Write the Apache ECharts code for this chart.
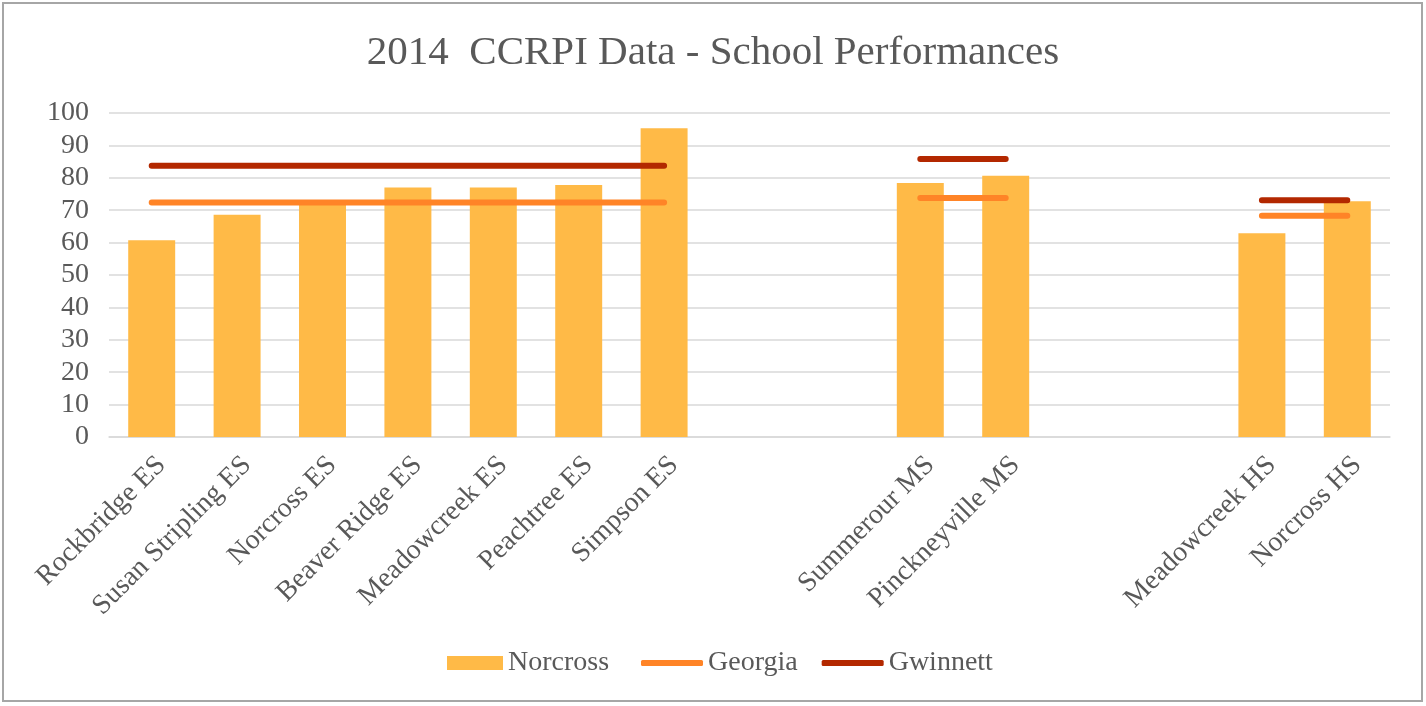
<!DOCTYPE html>
<html lang="en">
<head>
    <meta charset="UTF-8">
    <title>2014 CCRPI Data</title>
    <script src="https://cdn.jsdelivr.net/npm/echarts@6/dist/echarts.min.js"></script>
    <style>
        html, body { margin: 0; padding: 0; background: #fff; }
    </style>
</head>
<body>
<div id="main" style="width: 1426px;height: 706px;"></div>
<script type="text/javascript">
// schools, blanks keep the gaps between ES / MS / HS groups
var schools = ['Rockbridge ES', 'Susan Stripling ES', 'Norcross ES', 'Beaver Ridge ES', 'Meadowcreek ES',
    'Peachtree ES', 'Simpson ES', '', '', 'Summerour MS', 'Pinckneyville MS', '', '', 'Meadowcreek HS', 'Norcross HS'];
var norcross = [60.7, 68.6, 71.8, 77.0, 77.0, 77.8, 95.3, null, null, 78.4, 80.6, null, null, 62.9, 72.8];
var georgia = [72.4, 72.4, 72.4, 72.4, 72.4, 72.4, 72.4, null, null, 73.8, 73.8, null, null, 68.3, 68.3];
var gwinnett = [83.7, 83.7, 83.7, 83.7, 83.7, 83.7, 83.7, null, null, 85.8, 85.8, null, null, 73.1, 73.1];

var font = "'Liberation Serif', 'Times New Roman', serif";
var grey = '#595959';
var legendText = {fontFamily: font, fontSize: 28, color: grey};

var myChart = echarts.init(document.getElementById('main'));
myChart.setOption({
    animation: false,
    textStyle: {fontFamily: font, color: grey},
    title: {
        text: '2014  CCRPI Data - School Performances',
        left: 'center',
        top: 28,
        textStyle: {fontFamily: font, fontSize: 41, fontWeight: 'normal', color: grey}
    },
    //外框
    graphic: [{
        type: 'rect',
        shape: {x: 3, y: 3, width: 1419, height: 698},
        style: {fill: 'none', stroke: '#a6a6a6', lineWidth: 2},
        silent: true
    }],
    // two legends: bar icon is taller than the line icons
    legend: [
        {
            left: 442,
            top: 644,
            itemWidth: 56,
            itemHeight: 14,
            textStyle: legendText,
            data: [{name: 'Norcross', icon: 'rect'}]
        },
        {
            left: 636,
            top: 644,
            itemWidth: 62,
            itemHeight: 6,
            itemGap: 24,
            textStyle: legendText,
            data: [{name: 'Georgia', icon: 'roundRect'}, {name: 'Gwinnett', icon: 'roundRect'}]
        }
    ],
    grid: {left: 109, right: 36, top: 113, bottom: 269},
    xAxis: {
        type: 'category',
        data: schools,
        axisTick: {show: false},
        axisLine: {lineStyle: {color: '#d9d9d9', width: 1.5}},
        axisLabel: {
            interval: 0,
            rotate: 45,
            margin: 14,
            verticalAlign: 'top',
            fontFamily: font,
            fontSize: 28,
            color: grey
        }
    },
    yAxis: {
        type: 'value',
        min: 0,
        max: 100,
        interval: 10,
        axisLine: {show: false},
        axisTick: {show: false},
        axisLabel: {fontFamily: font, fontSize: 28, color: grey, margin: 20},
        splitLine: {lineStyle: {color: '#d9d9d9', width: 1.5}}
    },
    series: [
        {
            name: 'Norcross',
            type: 'bar',
            data: norcross,
            barCategoryGap: '45%',
            itemStyle: {color: '#FFBA47'}
        },
        {
            name: 'Georgia',
            type: 'line',
            data: georgia,
            symbol: 'none',
            connectNulls: false,
            z: 3,
            itemStyle: {color: '#FF8427'},
            lineStyle: {color: '#FF8427', width: 6, cap: 'round'}
        },
        {
            name: 'Gwinnett',
            type: 'line',
            data: gwinnett,
            symbol: 'none',
            connectNulls: false,
            z: 4,
            itemStyle: {color: '#B32800'},
            lineStyle: {color: '#B32800', width: 6, cap: 'round'}
        }
    ]
});
</script>
</body>
</html>
